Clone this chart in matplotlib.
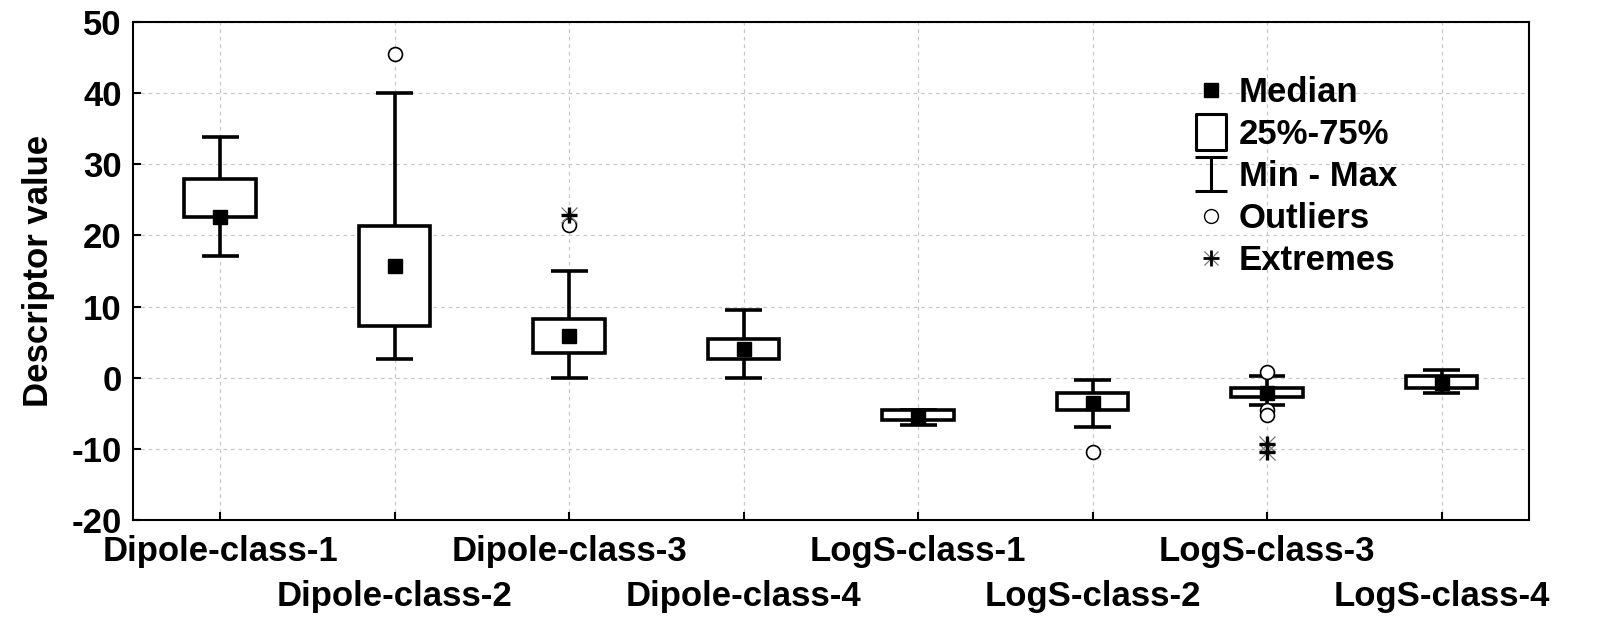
import numpy as np
import matplotlib
matplotlib.use("Agg")
import matplotlib.pyplot as plt
from matplotlib.lines import Line2D
from matplotlib.path import Path

matplotlib.rcParams["font.family"] = ["Liberation Sans", "DejaVu Sans"]
matplotlib.rcParams["font.weight"] = "bold"

# data
categories = ["Dipole-class-1", "Dipole-class-2", "Dipole-class-3", "Dipole-class-4",
              "LogS-class-1", "LogS-class-2", "LogS-class-3", "LogS-class-4"]
mins = [17.1, 2.6, 0.0, 0.0, -6.6, -6.9, -3.9, -2.2]
q1s = [22.6, 7.2, 3.5, 2.6, -6.0, -4.5, -2.75, -1.5]
medians = [22.6, 15.7, 5.9, 4.1, -5.4, -3.6, -2.1, -0.8]
q3s = [28.0, 21.3, 8.3, 5.4, -4.6, -2.1, -1.4, 0.2]
maxs = [33.9, 40.0, 15.0, 9.5, -4.6, -0.3, 0.2, 1.1]
outliers = [[], [45.5], [21.5], [], [], [-10.4], [0.8, -4.5, -5.2], []]
extremes = [[], [], [22.9], [], [], [], [-9.3, -10.5], []]

yticks = [-20, -10, 0, 10, 20, 30, 40, 50]

fig = plt.figure(figsize=(16.06, 6.34), dpi=100)
ax = fig.add_axes([0.0828, 0.180, 0.8692, 0.785])

x = np.arange(1, len(categories) + 1)
box_w = 0.41
cap_w = 0.21
lw = 2.6

for i in range(len(categories)):
    xi = x[i]
    ax.vlines(xi, mins[i], q1s[i], color="black", lw=lw, zorder=3)
    ax.vlines(xi, q3s[i], maxs[i], color="black", lw=lw, zorder=3)
    ax.hlines([mins[i], maxs[i]], xi - cap_w / 2, xi + cap_w / 2, color="black", lw=lw, zorder=3)
    ax.bar(xi, q3s[i] - q1s[i], bottom=q1s[i], width=box_w, facecolor="white",
           edgecolor="black", linewidth=lw, zorder=3)
    ax.plot(xi, medians[i], marker="s", color="black", markersize=10, ls="none", zorder=5)
    if outliers[i]:
        ax.plot([xi] * len(outliers[i]), outliers[i], marker="o", ls="none", markersize=10,
                markerfacecolor="white", markeredgecolor="black", markeredgewidth=1.2, zorder=6)
    if extremes[i]:
        ax.plot([xi] * len(extremes[i]), extremes[i], marker="x", ls="none", markersize=11,
                color="#777777", markeredgewidth=0.9, zorder=6)
        ax.plot([xi] * len(extremes[i]), extremes[i], marker="+", ls="none", markersize=12,
                color="black", markeredgewidth=2.4, zorder=7)

ax.set_xlim(0.5, len(categories) + 0.5)
ax.set_ylim(-20, 50)
ax.set_yticks(yticks)
ax.set_yticklabels([str(v) for v in yticks], fontsize=25, fontweight="bold")

# staggered category labels: odd ones on the first row, even ones on a second row
ax.set_xticks(x[::2])
ax.set_xticklabels(categories[::2], fontsize=25, fontweight="bold")
ax.set_xticks(x[1::2], minor=True)
ax.set_xticklabels(categories[1::2], minor=True, fontsize=25, fontweight="bold")
ax.tick_params(axis="both", which="both", direction="in", length=6, width=1.5)
ax.tick_params(axis="x", which="major", pad=11)
ax.tick_params(axis="x", which="minor", pad=43)
ax.tick_params(axis="y", pad=8)
ax.set_ylabel("Descriptor value", fontsize=25, fontweight="bold", labelpad=12)
ax.grid(True, which="both", axis="x", color="#c8c8c8", linestyle=(0, (3, 3)), linewidth=0.9, zorder=0)
ax.grid(True, axis="y", color="#c8c8c8", linestyle=(0, (3, 3)), linewidth=0.9, zorder=0)
ax.set_axisbelow(True)
for s in ax.spines.values():
    s.set_linewidth(1.5)

# legend symbols
ibeam = Path([(-0.95, 1), (0.95, 1), (0, 1), (0, -1), (-0.95, -1), (0.95, -1)],
             [Path.MOVETO, Path.LINETO, Path.MOVETO, Path.LINETO, Path.MOVETO, Path.LINETO])
rect = Path([(-0.85, -1), (0.85, -1), (0.85, 1), (-0.85, 1), (-0.85, -1)],
            [Path.MOVETO, Path.LINETO, Path.LINETO, Path.LINETO, Path.CLOSEPOLY])
handles = [
    Line2D([], [], marker="s", color="black", ls="none", markersize=10),
    Line2D([], [], marker=rect, ls="none", markersize=26, markerfacecolor="white",
           markeredgecolor="black", markeredgewidth=2.2),
    Line2D([], [], marker=ibeam, ls="none", markersize=25, color="black", markeredgewidth=2.2),
    Line2D([], [], marker="o", ls="none", markersize=10, markerfacecolor="white",
           markeredgecolor="black", markeredgewidth=1.0),
    (Line2D([], [], marker="x", ls="none", markersize=10, color="#777777", markeredgewidth=0.9),
     Line2D([], [], marker="+", ls="none", markersize=11, color="black", markeredgewidth=2.0)),
]
labels = ["Median", "25%-75%", "Min - Max", "Outliers", "Extremes"]
ax.legend(handles, labels, loc="upper left", bbox_to_anchor=(0.735, 0.955), frameon=False,
          prop={"size": 25, "weight": "bold"}, handletextpad=0.2, labelspacing=0.26,
          handlelength=1.2)

fig.savefig("out.png", dpi=100)
